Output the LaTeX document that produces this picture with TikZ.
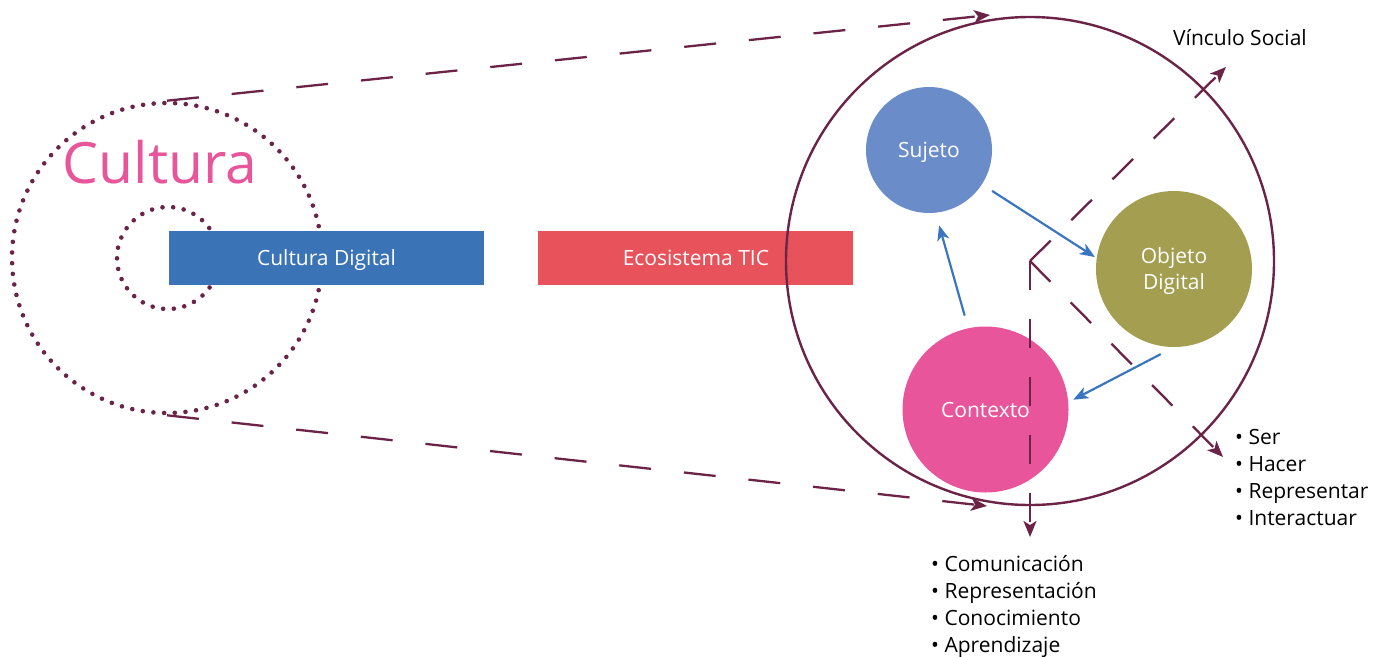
\documentclass[tikz,border=0pt]{standalone}
\usepackage{fontspec}
\setmainfont{Open Sans}
\usetikzlibrary{positioning,arrows.meta}

\definecolor{vino}{HTML}{6B2347}
\definecolor{azulbar}{HTML}{3A73B6}
\definecolor{rojobar}{HTML}{E8535B}
\definecolor{azulsuj}{HTML}{6A8CC8}
\definecolor{oliva}{HTML}{A39E50}
\definecolor{rosa}{HTML}{E8559A}
\definecolor{azulflecha}{HTML}{3A76C0}

\begin{document}
\begin{tikzpicture}[x=1pt,y=-1pt,
ring/.style={circle,draw=vino,line width=4.6pt,line cap=round,dash pattern=on 0pt off 10.7pt,inner sep=0pt},
bar/.style={rectangle,minimum width=315pt,minimum height=54pt,inner sep=0pt,text depth=0pt,text=white,font=\fontsize{21}{27}\selectfont},
ball/.style={circle,inner sep=0pt,text depth=0pt,text=white,align=center,font=\fontsize{21}{26}\selectfont},
link/.style={draw=vino,line width=2.3pt,dash pattern=on 29pt off 29pt,-{Stealth[length=16pt,width=13pt,inset=4pt]}},
flow/.style={draw=azulflecha,line width=2.2pt,-{Stealth[length=15pt,width=12pt,inset=4pt]}},
lista/.style={align=left,inner sep=0pt,font=\fontsize{21}{27}\selectfont}]
\useasboundingbox (0,0) rectangle (1389,656);

\node (cultura) [ring,minimum size=310pt] at (167,258) {};
\node (nucleo) [ring,minimum size=102pt] at (168,258) {};
\node (titulo) [anchor=base,text=rosa,inner sep=0pt,font=\fontsize{57}{60}\selectfont] at (160,183) {Cultura};

\node (cdigital) [bar,fill=azulbar] at (326.5,258) {Cultura Digital};
\node (ecosistema) [bar,fill=rojobar,right=54pt of cdigital] {Ecosistema TIC};

\node (entorno) [circle,draw=vino,line width=2.4pt,inner sep=0pt,minimum size=488pt] at (1030,261) {};

\coordinate (cima) at (990,15);
\coordinate (fondo) at (987,506);
\draw [link,dash pattern=on 32pt off 33pt] (cultura.north) -- (cima);
\draw [link,dash pattern=on 32pt off 33pt] (cultura.south) -- (fondo);

\node (sujeto) [ball,fill=azulsuj,minimum size=126pt] at (929,150) {Sujeto};
\node (objeto) [ball,fill=oliva,minimum size=156pt] at (1174,269) {Objeto\\Digital};
\node (contexto) [ball,fill=rosa,minimum size=166pt] at (985.5,409.5) {Contexto};

\coordinate (vinculo) at (1226,67);
\coordinate (ser) at (1223,457);
\coordinate (saber) at (1030,537);
\draw [link] (entorno.center) -- (vinculo);
\draw [link] (entorno.center) -- (ser);
\draw [link] (entorno.center) -- (saber);

\draw [flow,shorten <=12pt,shorten >=2pt] (sujeto.-33) -- (objeto.172);
\draw [flow,shorten <=15pt,shorten >=5.5pt] (objeto.270) -- (contexto.5.5);
\draw [flow,shorten <=13pt,shorten >=13pt] (contexto.102.6) -- (sujeto.276);

\node (social) [anchor=base west,inner sep=0pt,font=\fontsize{21}{27}\selectfont] at (1173,45) {Vínculo Social};
% base = baseline of the last line
\node (acciones) [lista,anchor=base west] at (1235,525)
  {\textbullet\ Ser\\\textbullet\ Hacer\\\textbullet\ Representar\\\textbullet\ Interactuar};
\node (procesos) [lista,anchor=base west] at (931,652)
  {\textbullet\ Comunicación\\\textbullet\ Representación\\\textbullet\ Conocimiento\\\textbullet\ Aprendizaje};
\end{tikzpicture}
\end{document}
